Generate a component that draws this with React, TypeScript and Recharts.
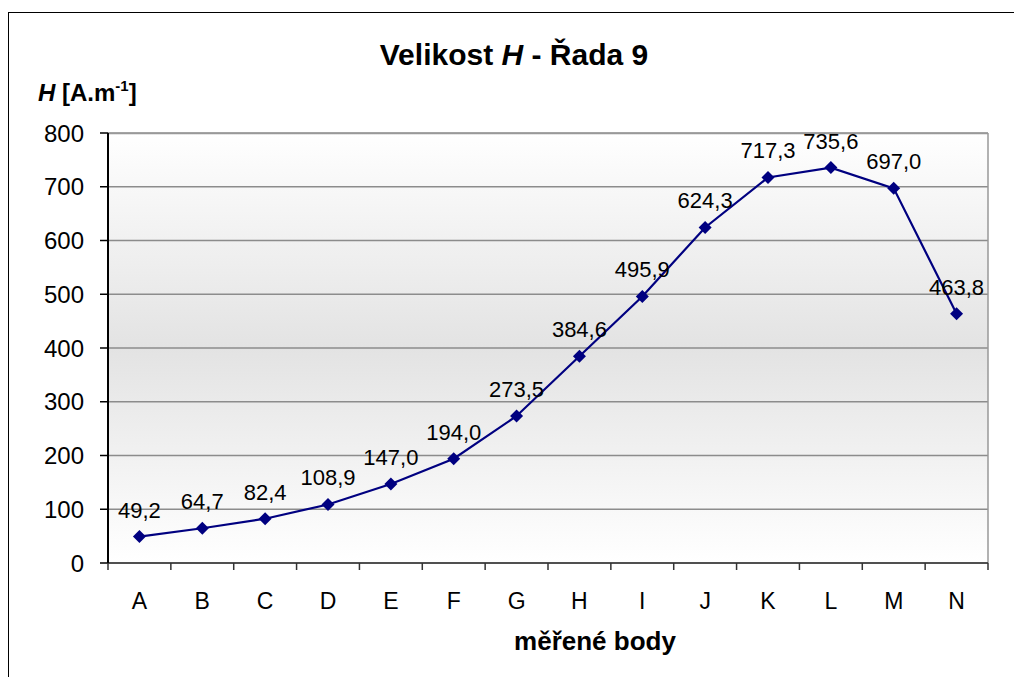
import { CartesianGrid, Line, LineChart, XAxis, YAxis, LabelList } from "recharts";

const points = ["A", "B", "C", "D", "E", "F", "G", "H", "I", "J", "K", "L", "M", "N"];
const hValues = [49.2, 64.7, 82.4, 108.9, 147.0, 194.0, 273.5, 384.6, 495.9, 624.3, 717.3, 735.6, 697.0, 463.8];
const yTicks = [0, 100, 200, 300, 400, 500, 600, 700, 800];

const data = points.map((name, i) => ({ name, value: hValues[i] }));

const font = "'Liberation Sans', Arial, sans-serif";
const band = 880 / points.length;

const Diamond = (props: any) => {
    const { cx, cy } = props;
    if (cx == null || cy == null) return null;
    return (
        <polygon
            points={`${cx},${cy - 6.5} ${cx + 6.5},${cy} ${cx},${cy + 6.5} ${cx - 6.5},${cy}`}
            fill="#000080"
        />
    );
};

const XTick = (props: any) => {
    const { x, y, payload, index } = props;
    return (
        <g>
            <line x1={x - band / 2} y1={y} x2={x - band / 2} y2={y + 7} stroke="#333" strokeWidth={1.5} />
            {index === points.length - 1 && (
                <line x1={x + band / 2} y1={y} x2={x + band / 2} y2={y + 7} stroke="#333" strokeWidth={1.5} />
            )}
            <text x={x} y={y + 46} textAnchor="middle" fontSize={23} fontFamily={font} fill="#000">
                {payload.value}
            </text>
        </g>
    );
};

const ValueLabel = (props: any) => {
    const { x, y, value } = props;
    return (
        <text x={x} y={y - 19} textAnchor="middle" fontSize={22} fontFamily={font} fill="#000">
            {Number(value).toFixed(1).replace(".", ",")}
        </text>
    );
};

export default function App() {
    return (
        <div style={{ position: "absolute", left: 0, top: 0, width: 1014, height: 677, background: "#fff" }}>
            <div
                style={{
                    position: "absolute",
                    left: 8,
                    top: 12,
                    width: 1006,
                    height: 665,
                    borderLeft: "1.5px solid #000",
                    borderTop: "1.5px solid #000",
                }}
            />
            <LineChart
                width={1014}
                height={677}
                data={data}
                margin={{ top: 133, right: 26, bottom: 84, left: 48 }}
                style={{ position: "absolute", left: 0, top: 0 }}
            >
                <defs>
                    <linearGradient id="plotBg" x1="0" y1="0" x2="0" y2="1">
                        <stop offset="0%" stopColor="#ffffff" />
                        <stop offset="50%" stopColor="#e3e3e3" />
                        <stop offset="100%" stopColor="#ffffff" />
                    </linearGradient>
                </defs>
                <CartesianGrid
                    vertical={false}
                    stroke="#8c8c8c"
                    strokeWidth={1.5}
                    fill="url(#plotBg)"
                    fillOpacity={1}
                />
                <XAxis
                    dataKey="name"
                    tick={<XTick />}
                    tickLine={false}
                    tickSize={0}
                    tickMargin={0}
                    height={30}
                    padding={{ left: band / 2, right: band / 2 }}
                    axisLine={{ stroke: "#333", strokeWidth: 1.5 }}
                    interval={0}
                />
                <YAxis
                    domain={[0, 800]}
                    ticks={yTicks}
                    width={60}
                    tickSize={8}
                    tickMargin={16}
                    tick={{ fontSize: 24, fontFamily: font, fill: "#000" }}
                    tickLine={{ stroke: "#000", strokeWidth: 1.5 }}
                    axisLine={{ stroke: "#000", strokeWidth: 2 }}
                />
                <Line
                    type="linear"
                    dataKey="value"
                    stroke="#000080"
                    strokeWidth={2.2}
                    dot={<Diamond />}
                    activeDot={false}
                    isAnimationActive={false}
                >
                    <LabelList dataKey="value" content={<ValueLabel />} />
                </Line>
                <line x1={108} y1={133.5} x2={988} y2={133.5} stroke="#999" strokeWidth={1.5} />
                <line x1={988} y1={133} x2={988} y2={563} stroke="#999" strokeWidth={1.5} />
                <text x={514} y={65} textAnchor="middle" fontSize={30} fontWeight="bold" fontFamily={font} fill="#000">
                    Velikost <tspan fontStyle="italic">H</tspan> - Řada 9
                </text>
                <text x={38} y={101} fontSize={24} fontWeight="bold" fontFamily={font} fill="#000">
                    <tspan fontStyle="italic">H</tspan> [A.m
                    <tspan fontSize={15} dy={-10}>-1</tspan>
                    <tspan dy={10}>]</tspan>
                </text>
                <text x={595} y={650} textAnchor="middle" fontSize={26} fontWeight="bold" fontFamily={font} fill="#000">
                    měřené body
                </text>
            </LineChart>
        </div>
    );
}
